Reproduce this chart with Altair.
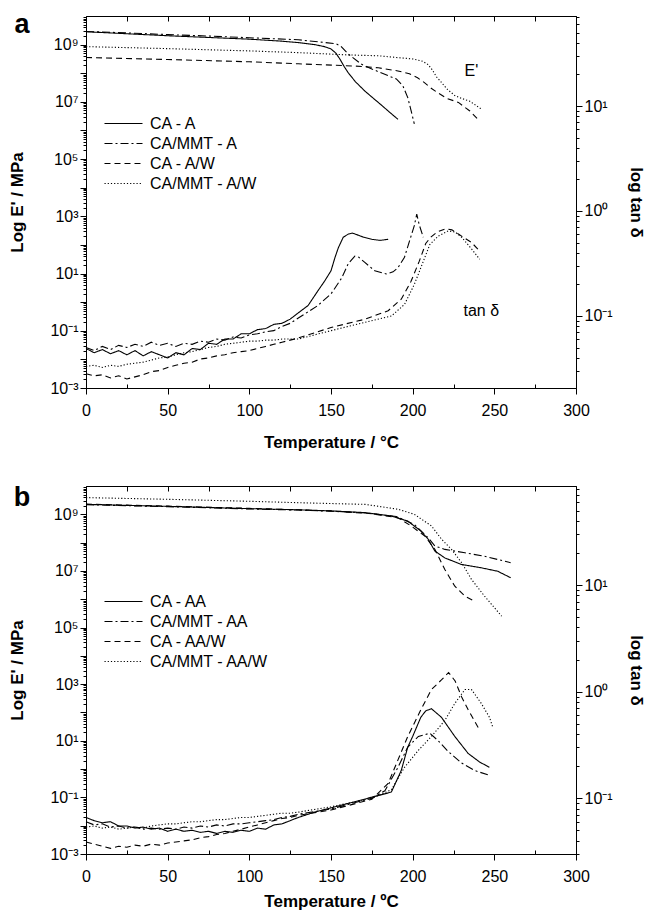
import altair as alt
import pandas as pd

# ---------------- categories / styles ----------------
A_NAMES = ["CA - A", "CA/MMT - A", "CA - A/W", "CA/MMT - A/W"]
B_NAMES = ["CA - AA", "CA/MMT - AA", "CA - AA/W", "CA/MMT - AA/W"]
DASHES = [[1, 0], [8, 3, 2, 3], [6, 4], [1.2, 2]]

LOW_T = [0, 5, 10, 15, 20, 25, 30, 35, 40, 45, 50, 55, 60, 65, 70, 75, 80, 85, 90, 95, 100, 105, 110, 115, 120, 125]

# ---------------- panel a : log10 E' (MPa) ----------------
a_E_ca_a_T = [0, 25, 50, 75, 100, 120, 130, 140, 146, 150, 153, 155.4, 158, 160.5, 165, 170.7, 176, 181, 186, 191]
a_E_ca_a = [9.45, 9.38, 9.31, 9.25, 9.19, 9.12, 9.07, 9.0, 8.93, 8.85, 8.7, 8.5, 8.24, 8.02, 7.7, 7.38, 7.12, 6.88, 6.63, 6.39]
a_E_mmt_a_T = [0, 25, 50, 75, 100, 130, 145, 153, 156, 160.6, 168.5, 175, 180, 190, 194, 197, 199, 201]
a_E_mmt_a = [9.46, 9.41, 9.35, 9.30, 9.24, 9.17, 9.08, 9.03, 8.95, 8.67, 8.32, 8.15, 8.03, 7.8, 7.56, 7.15, 6.7, 6.23]
a_E_ca_aw_T = [0, 50, 100, 130, 165, 179, 191, 198, 203, 207, 211, 215, 221, 228, 235, 241]
a_E_ca_aw = [8.55, 8.48, 8.40, 8.33, 8.25, 8.19, 8.08, 7.98, 7.84, 7.68, 7.49, 7.33, 7.12, 6.98, 6.68, 6.33]
a_E_mmt_aw_T = [0, 50, 100, 130, 160, 179, 190, 200, 206, 209.5, 212, 214.5, 217, 221, 225.8, 230, 235, 242]
a_E_mmt_aw = [8.93, 8.86, 8.78, 8.72, 8.64, 8.61, 8.55, 8.5, 8.42, 8.3, 8.12, 7.88, 7.72, 7.45, 7.22, 7.12, 7.02, 6.75]

# ---------------- panel a : log10 tan delta ----------------
a_tan_ca_a_low = [-1.31, -1.35, -1.32, -1.36, -1.33, -1.37, -1.33, -1.38, -1.34, -1.37, -1.40, -1.35, -1.37,
                  -1.31, -1.32, -1.26, -1.27, -1.22, -1.22, -1.17, -1.17, -1.13, -1.12, -1.08, -1.07, -1.03]
a_tan_ca_a_hiT = [130, 136, 142, 146, 150, 152.5, 154.5, 157.5, 160.6, 163, 166.6, 170, 175, 180, 185]
a_tan_ca_a_hi = [-0.97, -0.90, -0.76, -0.67, -0.57, -0.44, -0.35, -0.25, -0.22, -0.21, -0.23, -0.25, -0.27, -0.28, -0.27]
a_tan_mmt_a_low = [-1.30, -1.33, -1.29, -1.32, -1.28, -1.30, -1.27, -1.29, -1.25, -1.28, -1.26, -1.29, -1.26,
                   -1.27, -1.24, -1.25, -1.22, -1.23, -1.20, -1.21, -1.18, -1.17, -1.15, -1.14, -1.10, -1.07]
a_tan_mmt_a_hiT = [130, 136, 142, 150, 156.5, 160.6, 164.6, 167, 170.7, 176.8, 183.8, 188, 191, 195, 198, 201, 202.5, 204, 206.5]
a_tan_mmt_a_hi = [-1.02, -0.96, -0.90, -0.79, -0.64, -0.50, -0.43, -0.44, -0.49, -0.57, -0.60, -0.58, -0.54, -0.44,
                  -0.29, -0.14, -0.03, -0.13, -0.25]
a_tan_ca_aw_low = [-1.55, -1.57, -1.56, -1.59, -1.57, -1.60, -1.58, -1.56, -1.53, -1.52, -1.49, -1.47, -1.45,
                   -1.44, -1.41, -1.40, -1.38, -1.37, -1.35, -1.34, -1.33, -1.31, -1.29, -1.27, -1.25, -1.23]
a_tan_ca_aw_hiT = [130, 150, 171, 185, 193, 199, 204, 208, 211, 215, 220, 224, 228, 236, 241]
a_tan_ca_aw_hi = [-1.21, -1.11, -1.03, -0.95, -0.84, -0.67, -0.48, -0.31, -0.25, -0.20, -0.17, -0.18, -0.22, -0.30, -0.38]
a_tan_mmt_aw_low = [-1.48, -1.47, -1.49, -1.47, -1.48, -1.46, -1.45, -1.44, -1.42, -1.40, -1.39, -1.37, -1.35,
                    -1.34, -1.32, -1.30, -1.29, -1.27, -1.26, -1.25, -1.24, -1.24, -1.23, -1.23, -1.22, -1.22]
a_tan_mmt_aw_hiT = [130, 150, 171, 187, 195, 201, 206.5, 210.5, 215.6, 221.7, 226, 230, 236, 241]
a_tan_mmt_aw_hi = [-1.22, -1.14, -1.06, -1.0, -0.89, -0.70, -0.48, -0.32, -0.24, -0.19, -0.20, -0.25, -0.36, -0.46]

# ---------------- panel b : log10 E' (MPa) ----------------
b_E_ca_aa_T = [0, 50, 100, 130, 150, 171, 187, 197, 205, 209.5, 213.6, 219.7, 229.7, 242, 252, 260]
b_E_ca_aa = [9.35, 9.28, 9.2, 9.16, 9.12, 9.06, 8.94, 8.76, 8.41, 8.12, 7.7, 7.46, 7.23, 7.11, 6.99, 6.76]
b_E_mmt_aa_T = [0, 50, 100, 130, 150, 171, 190, 201, 209.5, 213.6, 219.7, 232, 244, 260]
b_E_mmt_aa = [9.34, 9.27, 9.19, 9.15, 9.11, 9.05, 8.92, 8.64, 8.17, 7.88, 7.76, 7.64, 7.52, 7.29]
b_E_ca_aaw_T = [0, 50, 100, 150, 175, 191, 199, 207.5, 213.6, 219.7, 225.8, 232, 238]
b_E_ca_aaw = [9.36, 9.29, 9.21, 9.12, 9.02, 8.88, 8.59, 8.23, 7.76, 7.05, 6.46, 6.11, 5.93]
b_E_mmt_aaw_T = [0, 50, 100, 130, 171, 191, 201, 211.5, 217.7, 223.8, 230, 236, 244, 254.5]
b_E_mmt_aaw = [9.59, 9.53, 9.46, 9.41, 9.35, 9.18, 9.0, 8.59, 8.12, 7.76, 7.29, 6.7, 6.11, 5.4]

# ---------------- panel b : log10 tan delta ----------------
b_tan_ca_aa_low = [-1.18, -1.21, -1.23, -1.22, -1.26, -1.26, -1.28, -1.27, -1.29, -1.28, -1.31, -1.29, -1.31,
                   -1.30, -1.32, -1.31, -1.33, -1.31, -1.32, -1.30, -1.31, -1.28, -1.29, -1.25, -1.24, -1.21]
b_tan_ca_aa_hiT = [130, 140, 150, 160, 175, 185, 187, 193, 197, 200, 205, 208, 211.5, 217.6, 225.8, 234, 241, 247]
b_tan_ca_aa_hi = [-1.18, -1.13, -1.09, -1.05, -0.99, -0.95, -0.94, -0.74, -0.52, -0.42, -0.24, -0.18, -0.16, -0.24,
                  -0.42, -0.58, -0.66, -0.71]
b_tan_mmt_aa_low = [-1.22, -1.25, -1.24, -1.27, -1.26, -1.28, -1.27, -1.29, -1.28, -1.29, -1.28, -1.29, -1.27,
                    -1.28, -1.26, -1.27, -1.25, -1.26, -1.24, -1.24, -1.23, -1.22, -1.21, -1.20, -1.18, -1.17]
b_tan_mmt_aa_hiT = [130, 150, 175, 183, 191, 197, 203.5, 210.5, 215.6, 221.7, 230, 238, 246]
b_tan_mmt_aa_hi = [-1.15, -1.10, -1.0, -0.93, -0.71, -0.52, -0.42, -0.39, -0.46, -0.56, -0.67, -0.74, -0.78]
b_tan_ca_aaw_low = [-1.41, -1.43, -1.45, -1.47, -1.45, -1.46, -1.44, -1.45, -1.43, -1.44, -1.42, -1.41, -1.40,
                    -1.39, -1.37, -1.36, -1.34, -1.33, -1.31, -1.29, -1.27, -1.25, -1.23, -1.21, -1.19, -1.18]
b_tan_ca_aaw_hiT = [130, 150, 175, 185, 191, 197, 205, 211.5, 217.6, 222, 226, 230, 234, 241]
b_tan_ca_aaw_hi = [-1.16, -1.11, -1.01, -0.86, -0.64, -0.42, -0.17, 0.02, 0.11, 0.18, 0.10, -0.05, -0.17, -0.36]
b_tan_mmt_aaw_low = [-1.27, -1.26, -1.28, -1.27, -1.29, -1.28, -1.27, -1.28, -1.26, -1.25, -1.24, -1.24, -1.23,
                     -1.22, -1.22, -1.21, -1.20, -1.20, -1.19, -1.18, -1.18, -1.17, -1.16, -1.15, -1.14, -1.14]
b_tan_mmt_aaw_hiT = [130, 150, 175, 187, 195, 203.5, 211.5, 219.7, 225.8, 232, 236, 242, 247, 249]
b_tan_mmt_aaw_hi = [-1.13, -1.08, -1.0, -0.92, -0.71, -0.55, -0.42, -0.27, -0.11, 0.02, 0.02, -0.11, -0.24, -0.33]

# annotations (panel a): label, T, log10 value on E' axis
ANN_A_TEXT = ["E'", "tan δ"]
ANN_A_T = [236, 242]
ANN_A_LOGE = [7.9, -0.48]

# axis ticks
X_MAJOR = [0, 50, 100, 150, 200, 250, 300]
X_MINOR = [25, 75, 125, 175, 225, 275]
X_TOP = list(range(0, 301, 25))
E_DOMAIN = [1e-3, 1e10]
TAN_DOMAIN_A = [0.0206, 72]
TAN_DOMAIN_B = [0.03, 85]

SUP = {"-": "\u207b", "0": "\u2070", "1": "\u00b9", "2": "\u00b2", "3": "\u00b3", "4": "\u2074",
       "5": "\u2075", "6": "\u2076", "7": "\u2077", "8": "\u2078", "9": "\u2079"}


def sup(n):
    return "10" + "".join(SUP[c] for c in str(n))


def log_ticks(lo_exp, hi_exp, lo, hi):
    vals = []
    for e in range(lo_exp, hi_exp + 1):
        for m in range(1, 10):
            v = float(f"{m}e{e}")
            if lo * 0.999 <= v <= hi * 1.001:
                vals.append(v)
    return vals


EXP = "round(log(datum.value)/LN10)"
IS_POW = f"abs(log(datum.value)/LN10 - {EXP}) < 0.01"


def label_expr(exps):
    expr = "''"
    for e in reversed(exps):
        expr = f"({EXP} == {e} ? '{sup(e)}' : {expr})"
    return f"({IS_POW}) ? {expr} : ''"


def frame(names, Ts, Vs):
    rows = []
    for n, t, v in zip(names, Ts, Vs):
        for ti, vi in zip(t, v):
            rows.append({"series": n, "T": ti, "v": 10 ** vi})
    return pd.DataFrame(rows)


eA = frame(A_NAMES, [a_E_ca_a_T, a_E_mmt_a_T, a_E_ca_aw_T, a_E_mmt_aw_T],
           [a_E_ca_a, a_E_mmt_a, a_E_ca_aw, a_E_mmt_aw])
tA = frame(A_NAMES,
           [LOW_T + a_tan_ca_a_hiT, LOW_T + a_tan_mmt_a_hiT, LOW_T + a_tan_ca_aw_hiT, LOW_T + a_tan_mmt_aw_hiT],
           [a_tan_ca_a_low + a_tan_ca_a_hi, a_tan_mmt_a_low + a_tan_mmt_a_hi,
            a_tan_ca_aw_low + a_tan_ca_aw_hi, a_tan_mmt_aw_low + a_tan_mmt_aw_hi])
eB = frame(B_NAMES, [b_E_ca_aa_T, b_E_mmt_aa_T, b_E_ca_aaw_T, b_E_mmt_aaw_T],
           [b_E_ca_aa, b_E_mmt_aa, b_E_ca_aaw, b_E_mmt_aaw])
tB = frame(B_NAMES,
           [LOW_T + b_tan_ca_aa_hiT, LOW_T + b_tan_mmt_aa_hiT, LOW_T + b_tan_ca_aaw_hiT, LOW_T + b_tan_mmt_aaw_hiT],
           [b_tan_ca_aa_low + b_tan_ca_aa_hi, b_tan_mmt_aa_low + b_tan_mmt_aa_hi,
            b_tan_ca_aaw_low + b_tan_ca_aaw_hi, b_tan_mmt_aaw_low + b_tan_mmt_aaw_hi])
annA = pd.DataFrame({"label": ANN_A_TEXT, "T": ANN_A_T, "v": [10 ** x for x in ANN_A_LOGE]})
annB = pd.DataFrame({"label": [""], "T": [150], "v": [1.0]})

FONT = "Arial"
TICK_SIZE = {"condition": {"test": IS_POW, "value": 6}, "value": 3}
SYM = "M-2.5,0H2.5"  # long horizontal legend stroke (38 px at size 231)


def panel(e_df, t_df, ann_df, names, tan_domain, height, letter, xtitle, xtitle_pad, legend_y, letter_y):
    xscale = alt.Scale(domain=[0, 300], nice=False, zero=False)
    escale = alt.Scale(type="log", domain=E_DOMAIN, nice=False)
    tscale = alt.Scale(type="log", domain=tan_domain, nice=False)
    dash = alt.StrokeDash(
        "series:N",
        scale=alt.Scale(domain=names, range=DASHES),
        legend=alt.Legend(orient="none", legendX=29, legendY=legend_y, title=None,
                          symbolType=SYM, symbolSize=231, symbolStrokeWidth=1.2,
                          symbolStrokeColor="black", labelFont=FONT, labelFontSize=16,
                          labelColor="black", rowPadding=3, labelOffset=18),
    )
    e_layer = alt.Chart(e_df).mark_line(color="black", strokeWidth=1.1).encode(
        x=alt.X("T:Q", scale=xscale,
                axis=alt.Axis(orient="bottom", values=X_MAJOR, tickSize=6, labelPadding=8,
                              title=xtitle, titlePadding=xtitle_pad, labelFlush=False, grid=False)),
        y=alt.Y("v:Q", scale=escale,
                axis=alt.Axis(orient="left", values=log_ticks(-3, 9, *E_DOMAIN),
                              labelExpr=label_expr([-3, -1, 1, 3, 5, 7, 9]), tickSize=TICK_SIZE,
                              labelOverlap=False, labelPadding=2, title="Log E' / MPa",
                              titlePadding=23, grid=False, labelFlush=False)),
        strokeDash=dash,
    )
    t_layer = alt.Chart(t_df).mark_line(color="black", strokeWidth=1.1).encode(
        x=alt.X("T:Q", scale=xscale,
                axis=alt.Axis(orient="top", values=X_TOP, tickSize=5, offset=-5, labels=False,
                              domain=False, title=None, grid=False)),
        y=alt.Y("v:Q", scale=tscale,
                axis=alt.Axis(orient="right", values=log_ticks(-2, 1, *tan_domain),
                              labelExpr=label_expr([-1, 0, 1]), tickSize=TICK_SIZE,
                              labelOverlap=False, labelPadding=2, title="log tan δ",
                              titlePadding=14, grid=False, labelFlush=False)),
        strokeDash=dash,
    )
    ann_layer = alt.Chart(ann_df).mark_text(font=FONT, fontSize=16, color="black",
                                            align="center", baseline="alphabetic").encode(
        x=alt.X("T:Q", scale=xscale,
                axis=alt.Axis(orient="bottom", values=X_MINOR, tickSize=4, offset=-4, labels=False,
                              domain=False, title=None, grid=False)),
        y=alt.Y("v:Q", scale=escale, axis=None),
        text="label:N",
    )
    letter_layer = alt.Chart(pd.DataFrame({"t": [letter]})).mark_text(
        font=FONT, fontSize=27, fontWeight="bold", color="black", align="center", baseline="alphabetic"
    ).encode(x=alt.value(-64), y=alt.value(letter_y), text="t:N")
    return alt.layer(e_layer, t_layer, ann_layer, letter_layer).resolve_scale(
        y="independent").resolve_axis(x="independent", y="independent").properties(
        width=490, height=height)


pa = panel(eA, tA, annA, A_NAMES, TAN_DOMAIN_A, 372, "a", "Temperature / °C", 16, 99, 17)
pb = panel(eB, tB, annB, B_NAMES, TAN_DOMAIN_B, 368, "b", "Temperature / ºC", 9, 107, 20)

chart = alt.vconcat(pa, pb, spacing=27).resolve_scale(
    x="independent", y="independent", strokeDash="independent"
).resolve_legend(strokeDash="independent").properties(
    padding={"left": 0, "top": 0, "right": 0, "bottom": 0}, background="white"
).configure_view(stroke="black", strokeWidth=1).configure_axis(
    labelFont=FONT, labelFontSize=16, labelColor="black", titleFont=FONT, titleFontSize=17,
    titleFontWeight="bold", titleColor="black", tickColor="black", domainColor="black",
    tickWidth=1, domainWidth=1
)

chart.save("out.html", embed_options={"renderer": "svg", "actions": False})
